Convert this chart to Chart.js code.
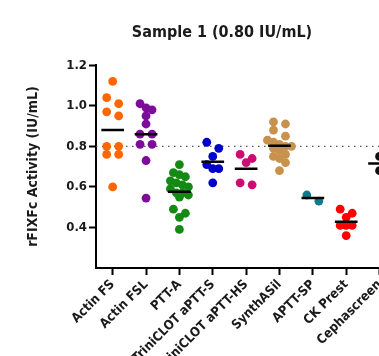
<!DOCTYPE html>
<html>
<head>
<meta charset="utf-8">
<script src="https://cdn.jsdelivr.net/npm/chart.js@4.4.1/dist/chart.umd.min.js"></script>
<style>
  html, body { margin: 0; padding: 0; background: #fff; overflow: hidden; }
  #wrap { width: 444px; height: 356px; }
</style>
</head>
<body>
<div id="wrap"><canvas id="scatter-chart"></canvas></div>
<script>
// Column scatter with means
// ------------------------------
const categories = ['Actin FS', 'Actin FSL', 'PTT-A', 'TriniCLOT aPTT-S', 'TriniCLOT aPTT-HS',
                    'SynthASil', 'APTT-SP', 'CK Prest', 'Cephascreen'];

const actinFS  = [1.12, 1.04, 1.01, 0.97, 0.95, 0.80, 0.80, 0.76, 0.76, 0.60];
const actinFSL = [1.01, 0.99, 0.98, 0.95, 0.91, 0.86, 0.86, 0.81, 0.81, 0.73, 0.545];
const pttA     = [0.71, 0.67, 0.66, 0.65, 0.63, 0.62, 0.61, 0.60, 0.59, 0.57, 0.57, 0.56, 0.55,
                  0.49, 0.47, 0.45, 0.39];
const triniS   = [0.82, 0.79, 0.75, 0.71, 0.69, 0.69, 0.62];
const triniHS  = [0.76, 0.74, 0.72, 0.62, 0.61];
const synthASil = [0.92, 0.91, 0.88, 0.85, 0.83, 0.82, 0.81, 0.80, 0.80, 0.79, 0.78, 0.76,
                   0.75, 0.74, 0.72, 0.68];
const apttSP   = [0.53, 0.56];
const ckPrest  = [0.49, 0.47, 0.45, 0.41, 0.41, 0.41, 0.36];
const cephascreen = [0.75, 0.68];

const seriesValues = [actinFS, actinFSL, pttA, triniS, triniHS, synthASil, apttSP, ckPrest, cephascreen];
const seriesColors = ['#ff6600', '#7d0c9b', '#148a14', '#0000cc', '#cc0c72', '#c8924c', '#0f7a8e', '#ff0000', '#111111'];
const yTickValues = [0.4, 0.6, 0.8, 1.0, 1.2];
const targetValue = 0.8;

var fontFamily = "'Liberation Sans Narrow', 'DejaVu Sans Condensed', 'Arial Narrow', sans-serif";

function mean(arr) {
    return arr.reduce(function(a, b) { return a + b; }, 0) / arr.length;
}

// one scatter set per reagent, x gets spread out after the first layout
var pointSets = categories.map(function(name, i) {
    return {
        type: 'scatter',
        label: name,
        data: seriesValues[i].map(function(v) { return {x: i, y: v}; }),
        backgroundColor: seriesColors[i],
        borderWidth: 0,
        pointRadius: 4.4,
        pointHoverRadius: 4.4,
        order: 2
    };
});

// mean bars, broken by nulls between categories
var meanData = [];
categories.forEach(function(name, i) {
    var m = mean(seriesValues[i]);
    meanData.push({x: i - 0.34, y: m}, {x: i + 0.34, y: m}, {x: i, y: null});
});

var meanSet = {
    type: 'line',
    label: 'Mean',
    data: meanData,
    borderColor: '#000',
    borderWidth: 2.5,
    pointRadius: 0,
    spanGaps: false,
    order: 0
};

var targetSet = {
    type: 'line',
    label: 'Target',
    data: [{x: -0.5, y: targetValue}, {x: 9.8, y: targetValue}],
    borderColor: '#555',
    borderWidth: 1.2,
    borderDash: [1.5, 4.5],
    pointRadius: 0,
    order: 3
};

var axisFont = {family: fontFamily, weight: 'bold', size: 13};

var config = {
    type: 'scatter',
    data: { datasets: [meanSet].concat(pointSets, [targetSet]) },
    options: {
        responsive: true,
        maintainAspectRatio: false,
        animation: false,
        layout: { padding: 0 },
        plugins: {
            legend: { display: false },
            tooltip: { enabled: false },
            title: {
                display: true,
                text: 'Sample 1 (0.80 IU/mL)',
                color: '#1a1a1a',
                font: {family: fontFamily, weight: 'bold', size: 16},
                padding: {top: 23, bottom: 23}
            }
        },
        scales: {
            x: {
                type: 'linear',
                min: -0.5,
                max: 9.8,
                afterBuildTicks: function(scale) {
                    scale.ticks = categories.map(function(c, i) { return {value: i}; });
                },
                afterFit: function(scale) { scale.height = 88; },
                grid: { drawOnChartArea: false, tickLength: 7, tickColor: '#000', tickWidth: 2 },
                border: { color: '#000', width: 2 },
                ticks: {
                    autoSkip: false,
                    minRotation: 45,
                    maxRotation: 45,
                    padding: 2,
                    color: '#1a1a1a',
                    font: {family: fontFamily, weight: 'bold', size: 13},
                    callback: function(value) { return categories[value] !== undefined ? categories[value] : ''; }
                }
            },
            y: {
                min: 0.2,
                max: 1.2,
                afterBuildTicks: function(scale) {
                    scale.ticks = yTickValues.map(function(v) { return {value: v}; });
                },
                afterFit: function(scale) { scale.width = 96; },
                grid: { drawOnChartArea: false, tickLength: 7, tickColor: '#000', tickWidth: 2 },
                border: { color: '#000', width: 2 },
                ticks: {
                    padding: 2,
                    color: '#1a1a1a',
                    font: axisFont,
                    callback: function(value) { return value.toFixed(1); }
                },
                title: {
                    display: true,
                    text: 'rFIXFc Activity (IU/mL)',
                    color: '#1a1a1a',
                    font: {family: fontFamily, weight: 'bold', size: 14},
                    padding: {top: 25, bottom: 0}
                }
            }
        }
    }
};

var ctx = document.getElementById('scatter-chart');
var scatterChart = new Chart(ctx, config);

// group dots that sit at almost the same height into a row and centre each row
function spreadPoints(chart) {
    var xs = chart.scales.x, ys = chart.scales.y;
    var rowHeight = 7.5;
    var pxPerUnit = xs.getPixelForValue(1) - xs.getPixelForValue(0);
    pointSets.forEach(function(set, i) {
        var order = set.data.map(function(p, k) { return k; })
            .sort(function(a, b) { return set.data[b].y - set.data[a].y; });
        var rows = [];
        var row = null, rowTop = 0;
        order.forEach(function(k) {
            var py = ys.getPixelForValue(set.data[k].y);
            if (!row || py - rowTop > rowHeight) {
                row = [];
                rows.push(row);
                rowTop = py;
            }
            row.push(k);
        });
        rows.forEach(function(r) {
            var n = r.length;
            var gap = n === 2 ? 12 : 6;
            r.forEach(function(k, j) {
                var dx = (j - (n - 1) / 2) * gap;
                set.data[k].x = i + dx / pxPerUnit;
            });
        });
    });
    chart.update('none');
}
spreadPoints(scatterChart);
</script>
</body>
</html>
